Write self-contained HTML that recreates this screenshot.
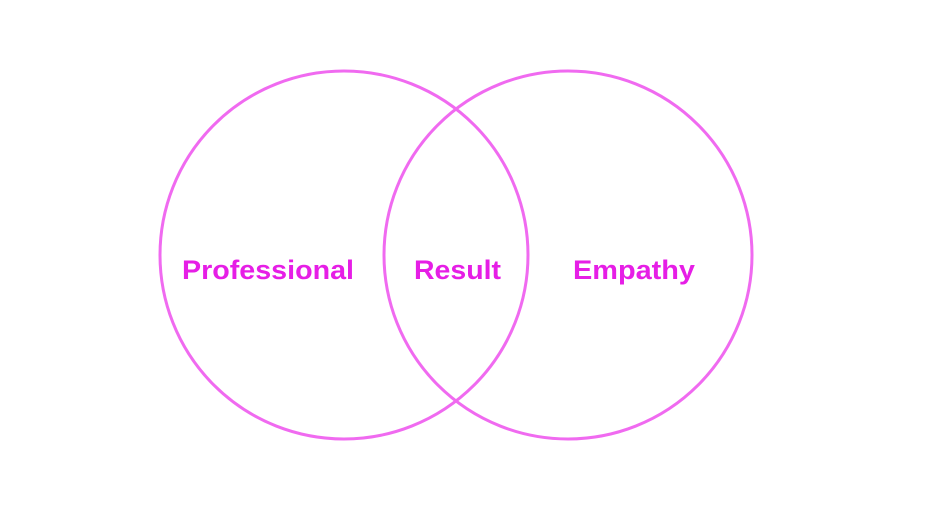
<!DOCTYPE html>
<html><head><style>html,body{margin:0;padding:0;background:#fff;width:940px;height:526px;overflow:hidden}</style></head>
<body>
<svg width="940" height="526" viewBox="0 0 940 526" xmlns="http://www.w3.org/2000/svg">
<circle cx="344" cy="255" r="184" fill="none" stroke="#f06af0" stroke-width="3"/>
<circle cx="568" cy="255" r="184" fill="none" stroke="#f06af0" stroke-width="3"/>
<g font-family="Liberation Sans, sans-serif" font-weight="bold" font-size="27" fill="#e61ee6">
<text x="182" y="279" textLength="172" lengthAdjust="spacingAndGlyphs">Professional</text>
<text x="414" y="279" textLength="87" lengthAdjust="spacingAndGlyphs">Result</text>
<text x="573" y="279" textLength="122" lengthAdjust="spacingAndGlyphs">Empathy</text>
</g>
</svg>
</body></html>
